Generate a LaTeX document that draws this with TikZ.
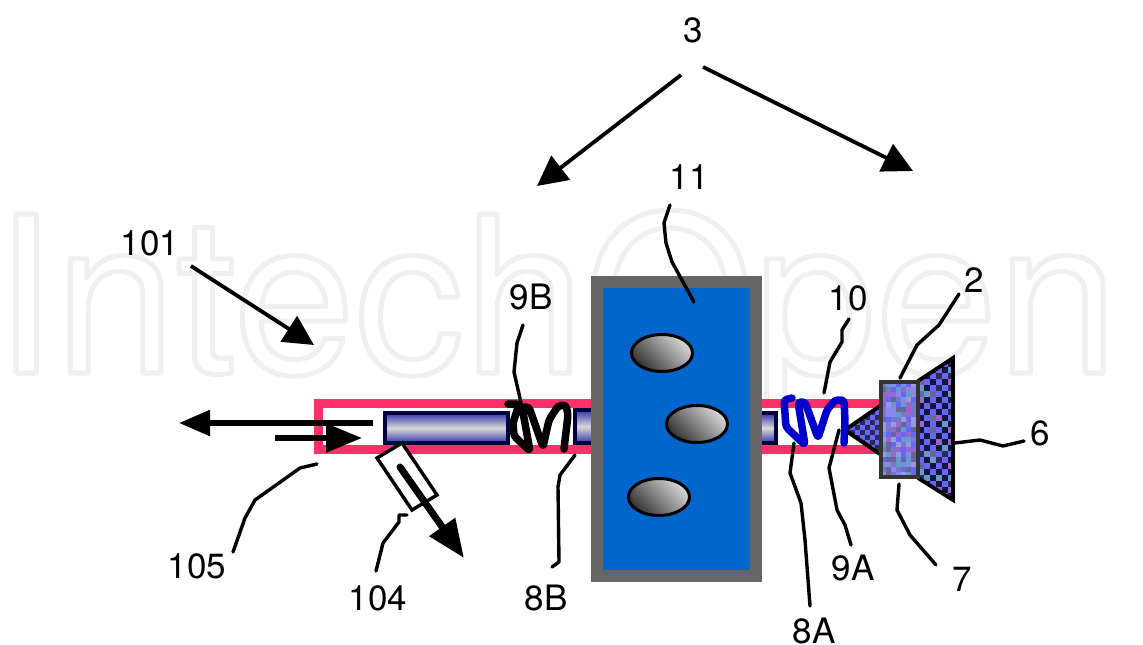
\documentclass[tikz,border=0pt]{standalone}
\usepackage{fontspec}
\setmainfont{TeX Gyre Heros}
\usetikzlibrary{arrows.meta,shapes.geometric}
\definecolor{redband}{HTML}{FF2F68}
\definecolor{navy}{HTML}{000040}
\definecolor{tubeblue}{HTML}{3333AA}
\definecolor{boxgray}{HTML}{666666}
\definecolor{boxblue}{HTML}{0066CC}
\definecolor{coilblue}{HTML}{0000CC}
\definecolor{mA}{HTML}{6666FF}
\definecolor{mB}{HTML}{8888EE}
\definecolor{mC}{HTML}{9999DD}
\definecolor{mD}{HTML}{6699CC}
\definecolor{mE}{HTML}{9966CC}
\definecolor{mF}{HTML}{666699}
\definecolor{mG}{HTML}{7777CC}
\definecolor{dk}{HTML}{14143C}
\definecolor{dl}{HTML}{2A2A55}
\tikzset{
  lab/.style={font=\fontsize{35}{37}\selectfont,inner sep=0pt,text=black},
  leader/.style={draw=black,line width=3.4pt,line join=round,line cap=round},
  bigarrow/.style={draw=black,line width=3.8pt,-{Triangle[length=30pt,width=30pt,fill=black]}},
  tube/.style={draw=navy,line width=4pt,top color=tubeblue,bottom color=tubeblue,middle color=white!85!black},
  oval/.style={draw=black,line width=3pt,shading=axis,left color=black!80,right color=black!15,shading angle=135},
  coilline/.style={line width=7.5pt,line join=round,line cap=round,rounded corners=3pt},
}
\begin{document}
\begin{tikzpicture}[x=1pt,y=-1pt]
\useasboundingbox (0,0) rectangle (1143,645);
\pgfmathsetseed{42}
% watermark
\node[anchor=base west,inner sep=0pt,font=\fontsize{218}{220}\selectfont] (wm) at (-6,373)
  {\special{pdf:code q 1 Tr 5 w 0.94 0.94 0.94 RG 1 j}IntechOpen\special{pdf:code Q 0 Tr}};
% red band
\draw[draw=redband,line width=9pt] (318.5,403.5) rectangle (880,449);
% tubes
\path[tube] (385,413) rectangle (508,443);
\path[tube] (575,410) rectangle (595,443);
\path[tube] (755,413) rectangle (776,443);
% grey box
\node[draw=boxgray,fill=boxblue,line width=12pt,minimum width=159pt,minimum height=294pt,inner sep=0pt,anchor=center] (box) at (676.5,429) {};
\node[oval,ellipse,minimum width=61pt,minimum height=37pt,inner sep=0pt] (e1) at (662,353) {};
\node[oval,ellipse,minimum width=61pt,minimum height=37pt,inner sep=0pt] (e2) at (697,424) {};
\node[oval,ellipse,minimum width=61pt,minimum height=37pt,inner sep=0pt] (e3) at (659,497) {};
% small cone
\begin{scope}
\clip (845,430) -- (880,405) -- (880,455) -- cycle;
\foreach \i in {0,...,6}{\foreach \j in {0,...,9}{
  \pgfmathtruncatemacro{\k}{mod(\i+\j,2)}
  \ifnum\k=0 \def\cc{dl}\else\def\cc{mA}\fi
  \fill[\cc] (845+\i*5,405+\j*5) rectangle +(5.2,5.2);
}}
\end{scope}
\draw[line width=4pt,line join=round] (880,406) -- (845,430) -- (880,454);
% big cone
\begin{scope}
\clip (918,381) -- (953,358) -- (953,500) -- (918,478) -- cycle;
\foreach \i in {0,...,6}{\foreach \j in {0,...,24}{
  \pgfmathtruncatemacro{\k}{mod(\i+\j,2)}
  \pgfmathtruncatemacro{\rr}{random(0,5)}
  \ifnum\k=0
    \ifnum\rr=0 \def\cc{dl}\else\ifnum\rr=1 \def\cc{mF}\else\def\cc{dk}\fi\fi
  \else
    \ifnum\rr=0 \def\cc{mE}\else\ifnum\rr=1 \def\cc{mD}\else\def\cc{mA}\fi\fi
  \fi
  \fill[\cc] (918+\i*6,355+\j*6) rectangle +(6.2,6.2);
}}
\end{scope}
\draw[line width=3.8pt,line join=miter] (918,381) -- (953,358) -- (953,500) -- (918,478);
% mosaic block
\begin{scope}
\clip (881,382) rectangle (918,477);
\foreach \i in {0,...,7}{\foreach \j in {0,...,19}{
  \pgfmathtruncatemacro{\rr}{random(1,7)}
  \ifcase\rr\or\def\cc{mA}\or\def\cc{mB}\or\def\cc{mC}\or\def\cc{mD}\or\def\cc{mE}\or\def\cc{mF}\or\def\cc{mG}\fi
  \fill[\cc] (881+\i*5,382+\j*5) rectangle +(5.2,5.2);
}}
\end{scope}
\draw[draw=black!80,line width=3.5pt] (881,382) rectangle (918,477);
% coils
\draw[coilline,black] (508,404) -- (519,404) -- (513,423) -- (514,436) -- (530,451) -- (522,407) -- (529,407) -- (543,447) -- (549,420) -- (558,406) -- (566,405) -- (568,415) -- (564,449);
\draw[coilline,coilblue] (792,398) -- (784,400) -- (786,427) -- (805,445) -- (798,402) -- (805,402) -- (818,438) -- (827,410) -- (835,400) -- (844,400) -- (845,420) -- (844,443);
% labels
\node[lab] (l3) at (693,30) {3};
\node[lab] (l11) at (689,177) {11};
\node[lab] (l101) at (150,243) {101};
\node[lab] (l9B) at (531,297) {9B};
\node[lab] (l10) at (848,298) {10};
\node[lab] (l2) at (974,280) {2};
\node[lab] (l6) at (1040,433) {6};
\node[lab] (l7) at (962,579) {7};
\node[lab] (l9A) at (853,568) {9A};
\node[lab] (l8A) at (814,631) {8A};
\node[lab] (l8B) at (546,598) {8B};
\node[lab] (l104) at (378,598) {104};
\node[lab] (l105) at (197,566) {105};
% leaders
\coordinate (s9B) at (523,325);
\coordinate (s11) at (670,205);
\coordinate (s10) at (849,319);
\coordinate (s2) at (959,294);
\coordinate (s6) at (1024,441);
\coordinate (s7) at (936,565);
\coordinate (s9A) at (851,545);
\coordinate (s8A) at (810,606);
\coordinate (s8B) at (552,567);
\coordinate (s104) at (376,571);
\coordinate (s105) at (233,552);
\draw[leader] (s9B) -- (517,343) -- (514,372) -- (522,407) -- (527,433);
\draw[leader] (s11) -- (664,223) -- (666,243) -- (672,262) -- (694,302);
\draw[leader] (s10) -- (842,330) -- (842,342) -- (830,362) -- (824,393);
\draw[leader] (s2) -- (939,325) -- (917,345) -- (900,378);
\draw[leader] (955,443) -- (980,440) -- (1003,446) -- (s6);
\draw[leader] (899,484) -- (897,510) -- (910,535) -- (s7);
\draw[leader] (839,430) -- (829,468) -- (837,510) -- (845,525) -- (s9A);
\draw[leader] (794,443) -- (790,473) -- (801,503) -- (805,540) -- (s8A);
\draw[leader] (575,455) -- (560,475) -- (558,487) -- (559,562) -- (s8B);
\draw[leader] (407,515) -- (399,515) -- (399,522) -- (383,543) -- (s104);
\draw[leader] (317,464) -- (300,468) -- (255,500) -- (245,518) -- (s105);
% probe
\draw[draw=black,fill=white,line width=3.4pt] (377,458) -- (402,443) -- (437,495) -- (412,510) -- cycle;
% arrows
\coordinate (a3s) at (681,75);
\coordinate (a3l) at (537,186);
\coordinate (a3r) at (913,171);
\coordinate (a3t) at (703,67);
\coordinate (a101s) at (191,266);
\coordinate (a101e) at (314,345);
\coordinate (aLs) at (373,423);
\coordinate (aLe) at (179,423);
\coordinate (aRs) at (275,438);
\coordinate (aRe) at (362,438);
\coordinate (aPs) at (400,467);
\coordinate (aPe) at (464,558);
\draw[bigarrow] (a3s) -- (a3l);
\draw[bigarrow] (a3t) -- (a3r);
\draw[bigarrow] (a101s) -- (a101e);
\draw[draw=black,line width=5.5pt,-{Triangle[length=31pt,width=25pt,fill=black]}] (aLs) -- (aLe);
\draw[draw=black,line width=5.5pt,-{Triangle[length=36pt,width=28pt,fill=black]}] (aRs) -- (aRe);
\draw[draw=black,line width=7pt,line cap=round,-{Triangle[length=38pt,width=30pt,fill=black]}] (aPs) -- (aPe);
\end{tikzpicture}
\end{document}
